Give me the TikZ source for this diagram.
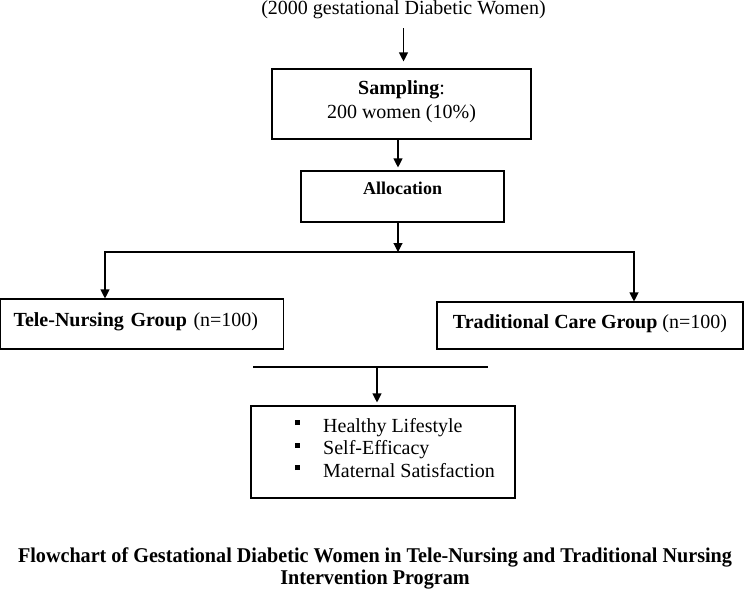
\documentclass[tikz,border=0pt]{standalone}
\usepackage{fontspec}
\setmainfont{Liberation Serif}
\usepackage{graphicx}
\usetikzlibrary{arrows.meta}
\newsavebox\capboxA
\newcommand\sqbul{\makebox[28pt][l]{\rule[7pt]{5pt}{5pt}}}
\begin{document}
\sbox\capboxA{\fontsize{21}{22}\selectfont\bfseries Flowchart of Gestational Diabetic Women in Tele-Nursing and Traditional Nursing}%
\pgfmathsetmacro\capf{714/\the\wd\capboxA}%
\begin{tikzpicture}[x=1pt,y=-1pt,
  every node/.style={font=\fontsize{20}{24}\selectfont, inner sep=0pt},
  fbox/.style={draw=black, line width=1.1pt, rectangle},
  conn/.style={line width=1.1pt, draw=black},
  arr/.style={conn, -{Triangle[length=9pt,width=9pt]}},
  arrboth/.style={conn, {Triangle[length=9pt,width=9pt]}-{Triangle[length=9pt,width=9pt]}},
  captxt/.style={font=\fontsize{21}{22}\selectfont\bfseries}]
\useasboundingbox (0,0) rectangle (744,589);

% population
\node[anchor=base] (pop) at (403.5,14) {(2000 gestational Diabetic Women)};

% sampling
\node[fbox, minimum width=259pt, minimum height=70pt, align=center] (sampling) at (401.5,104)
  {\textbf{Sampling}:\\200 women (10\%)\rule[-9.5pt]{0pt}{1pt}};

% allocation
\node[fbox, minimum width=203pt, minimum height=51pt, text height=12pt, text depth=16pt,
  font=\fontsize{18}{22}\selectfont\bfseries] (alloc) at (402.5,196.5) {Allocation};

% groups
\node[fbox, minimum width=283pt, minimum height=50pt, text width=257pt, inner xsep=13pt,
  align=left, text height=14pt, text depth=9pt] (tele) at (142,324)
  {\textbf{Tele-Nursing Group} (n=100)};
\node[fbox, minimum width=306pt, minimum height=47pt, text height=14pt, text depth=9pt]
  (trad) at (590,325.5) {\textbf{Traditional Care Group} (n=100)};

% outcomes
\node[fbox, minimum width=264pt, minimum height=92pt] (out) at (383,452) {};
\node[anchor=base west] (o1) at (295,432) {\sqbul Healthy Lifestyle};
\node[anchor=base west] (o2) at (295,454.5) {\sqbul Self-Efficacy};
\node[anchor=base west] (o3) at (295,477) {\sqbul Maternal Satisfaction};

% caption
\node[anchor=base, captxt] (cap1) at (375,562) {\scalebox{\capf}[1]{\usebox\capboxA}};
\node[anchor=base, captxt] (cap2) at (375,584) {\scalebox{\capf}[1]{Intervention Program}};

% connectors
\coordinate (c2) at (398,0);
\coordinate (sl) at (105,252);
\coordinate (sr) at (634,252);
\coordinate (ml) at (253,367);
\coordinate (mr) at (488,367);
\coordinate (mm) at (377,367);

\draw[arr, shorten <=9.5pt, shorten >=7pt] (pop.south) -- (pop.south |- sampling.north);
\draw[arr, shorten >=3pt] (c2 |- sampling.south) -- (c2 |- alloc.north);
\draw[arr] (c2 |- alloc.south) -- (c2 |- sl);
\draw[arrboth] (sl |- tele.north) -- (sl) -- (sr) -- (sr |- trad.north);
\draw[conn] (ml) -- (mr);
\draw[arr, shorten >=3pt] (mm) -- (mm |- out.north);
\end{tikzpicture}
\end{document}
